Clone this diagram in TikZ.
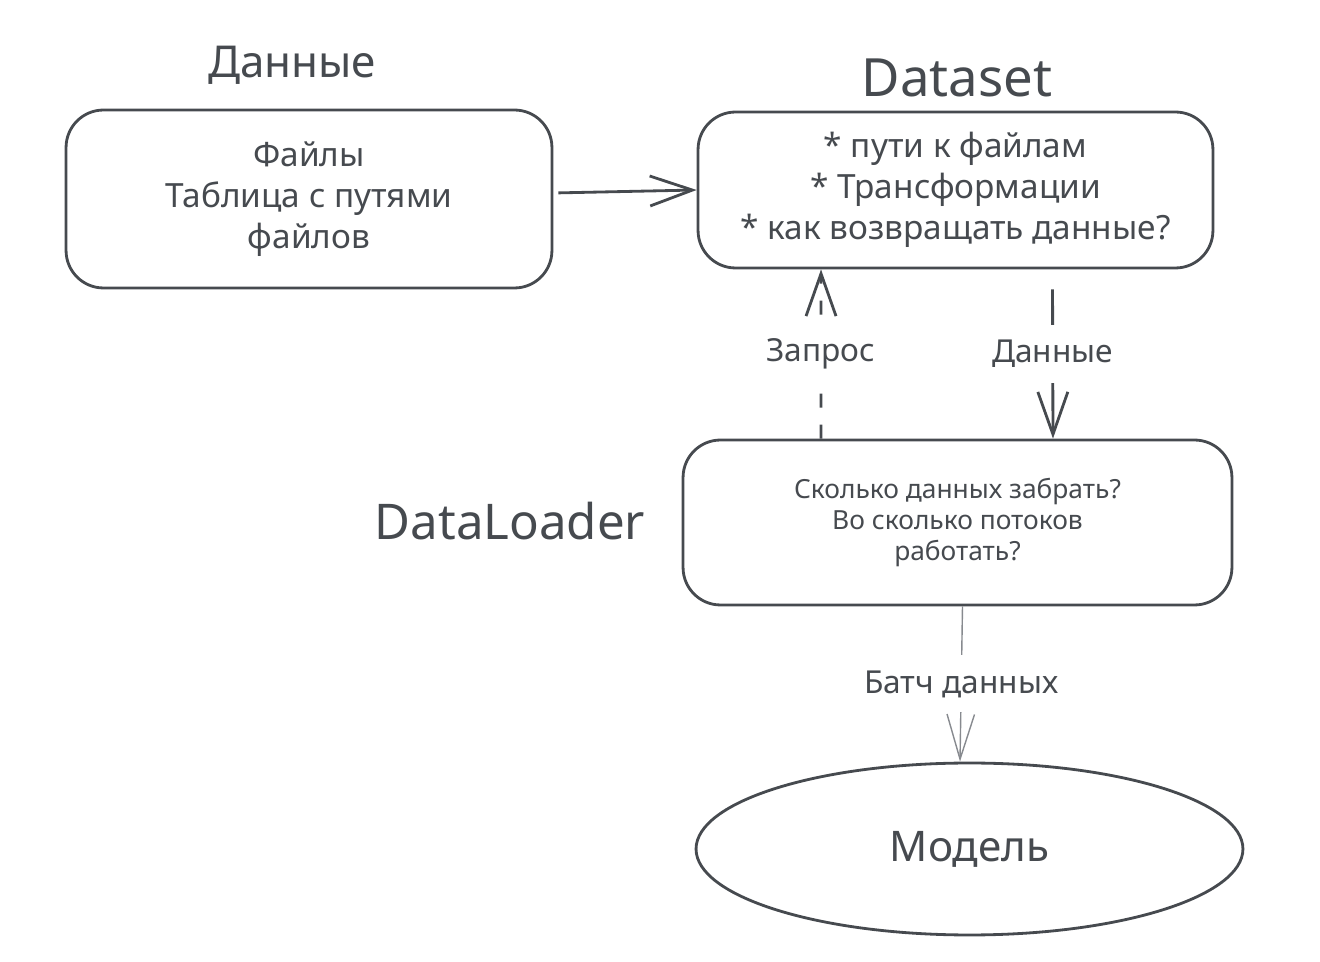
\documentclass[tikz,border=0pt]{standalone}
\usepackage{fontspec}
\setmainfont{Noto Sans}
\usetikzlibrary{arrows.meta,shapes.geometric}
\definecolor{ink}{RGB}{70,74,79}
\definecolor{faint}{RGB}{135,138,143}

\begin{document}
\begin{tikzpicture}[x=0.02cm, y=-0.02cm, every node/.style={text=ink},
	box/.style={rectangle, rounded corners=0.75cm, draw=ink, line width=1.6pt, align=center, font=\fontsize{19}{23.5}\selectfont},
	title/.style={font=\fontsize{28}{32}\selectfont},
	lbl/.style={fill=white, inner xsep=2pt, inner ysep=0.3cm, font=\fontsize{18}{22}\selectfont},
	link/.style={draw=ink, line width=1.6pt, -{Straight Barb[length=0.85cm, width=0.6cm]}},
	thinlink/.style={draw=faint, line width=0.8pt, -{Straight Barb[length=0.9cm, width=0.55cm]}}]
				\useasboundingbox (0,0) rectangle (1320,962);
				
				\node[title, font=\fontsize{25}{30}\selectfont] (tdata) at (292,65) {Данные};
				\node[title, font=\fontsize{30}{34}\selectfont] (tset) at (957,78) {Dataset};
				\node[title] (tload) at (510,521) {DataLoader};
				
				\node[box, minimum width=9.72cm, minimum height=3.56cm] (files) at (309,199) {Файлы\\Таблица с путями\\файлов};
				\node[box, minimum width=10.3cm, minimum height=3.12cm] (dataset) at (955.5,190) {* пути к файлам\\* Трансформации\\* как возвращать данные?};
				\node[box, minimum width=10.98cm, minimum height=3.3cm, font=\fontsize{15}{17.6}\selectfont] (loader) at (957.5,522.5) {Сколько данных забрать?\\Во сколько потоков\\работать?};
				\node[ellipse, draw=ink, line width=1.6pt, inner sep=0pt, minimum width=10.94cm, minimum height=3.44cm, font=\fontsize{24}{28}\selectfont] (model) at (969.5,849) {Модель};
				
				\path ([yshift=0.12cm]files.east) edge[link, shorten <=0.1cm] (dataset.west);
				\path ([xshift=-2.73cm]loader.north) edge[link, dash pattern=on 0.28cm off 0.34cm] node[lbl, inner ysep=0.4cm] {Запрос} ([xshift=-2.69cm]dataset.south);
				\path ([xshift=1.94cm]dataset.south) edge[link, shorten <=0.4cm] node[lbl] {Данные} ([xshift=1.91cm]loader.north);
				\path ([xshift=0.1cm]loader.south) edge[thinlink] node[lbl] {Батч данных} ([xshift=-0.19cm]model.north);
\end{tikzpicture}
\end{document}
